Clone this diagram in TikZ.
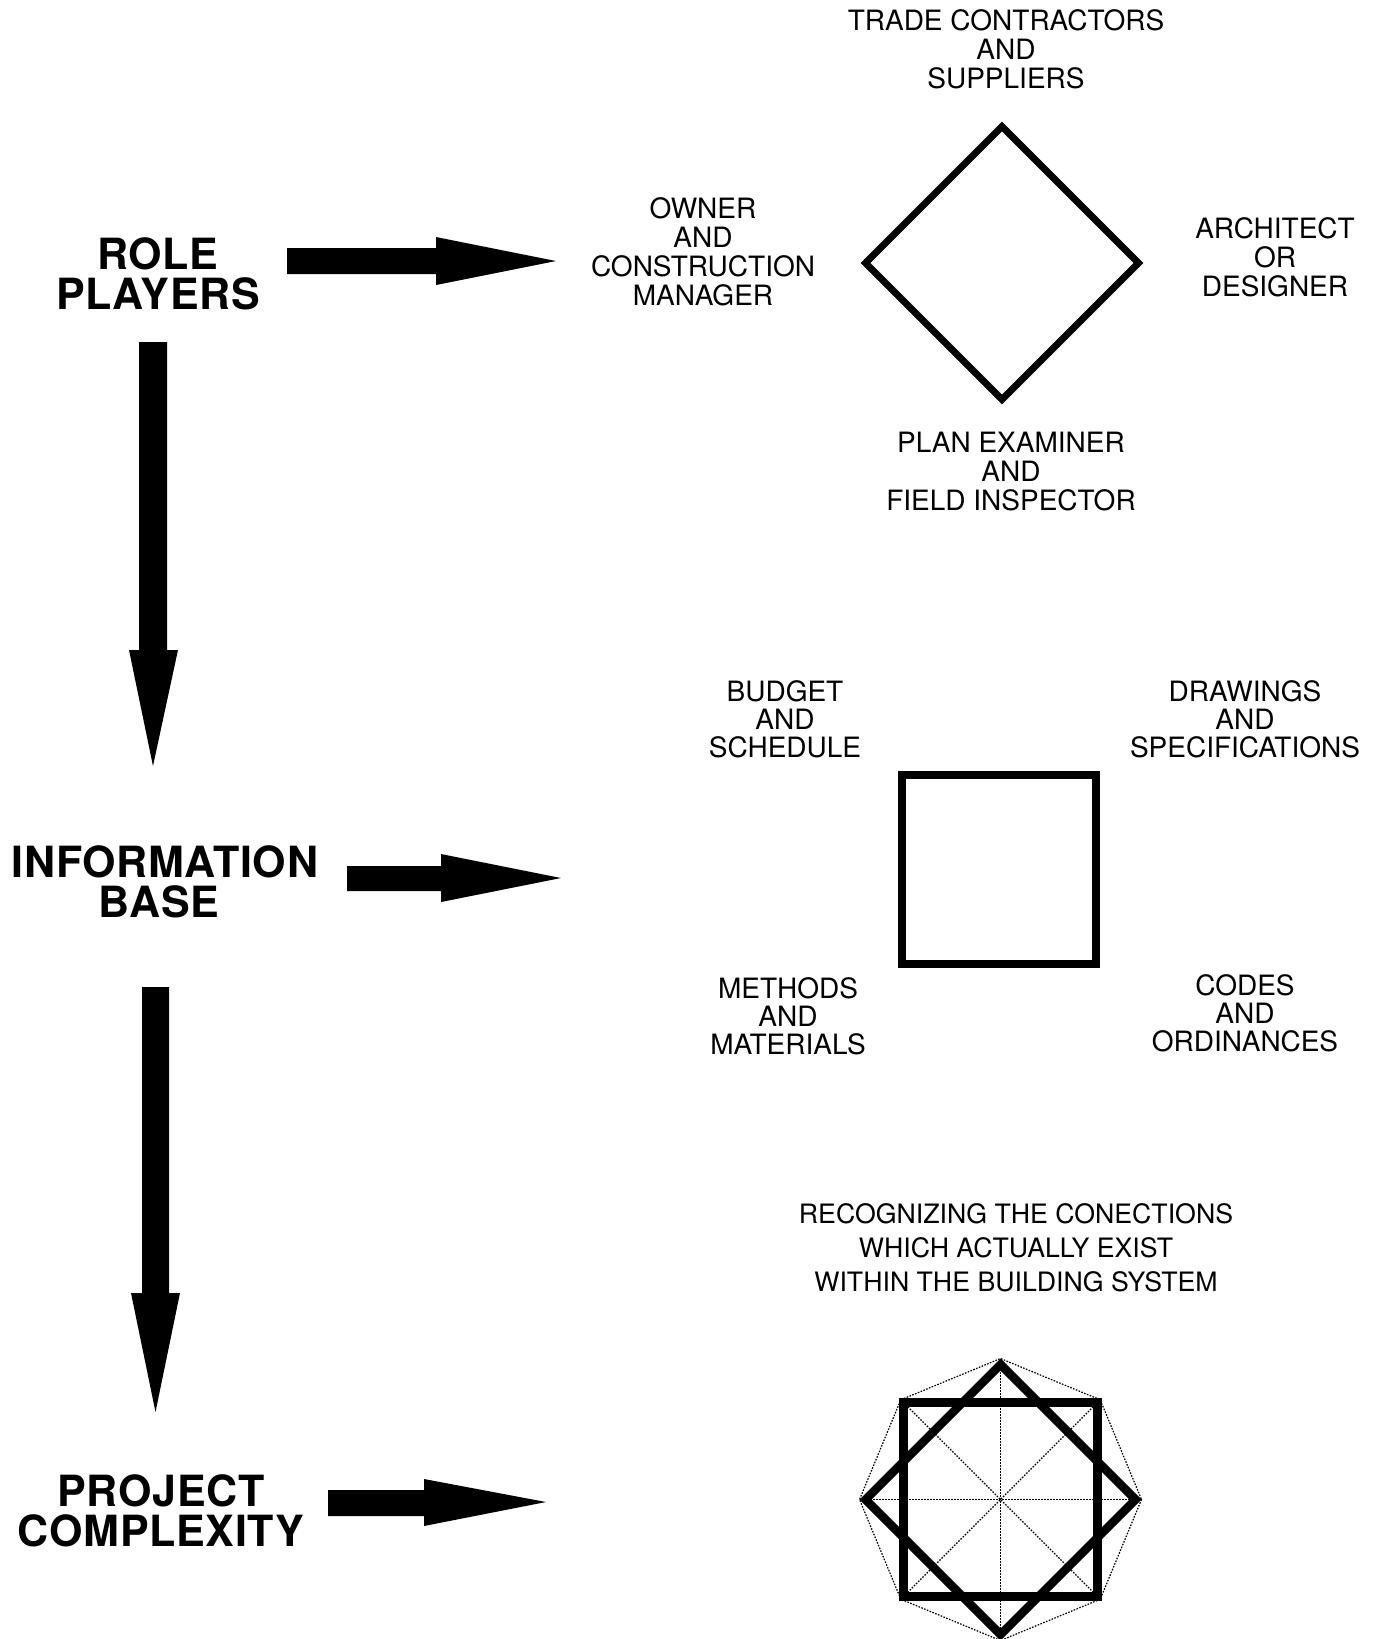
\documentclass[tikz,border=0pt]{standalone}
\usepackage{fontspec}
\setmainfont{TeX Gyre Heros}
\usetikzlibrary{calc}
\begin{document}
\begin{tikzpicture}[x=1pt,y=-1pt,
  lab/.style={align=center, inner sep=0pt, font=\fontsize{28}{29}\selectfont},
  title/.style={align=center, inner sep=0pt, font=\fontsize{43}{40}\selectfont\bfseries\addfontfeatures{LetterSpace=1.6}},
  blockarrow/.style={fill=black, draw=none},
  heavy/.style={draw=black, line width=7pt, miter limit=10},
  fine/.style={draw=black, line width=1.2pt, dash pattern=on 1.6pt off 1.4pt}]
\path[use as bounding box, fill=white] (0,0) rectangle (1383,1639);

% titles
\node[title] (role) at (158,274) {ROLE\\PLAYERS};
\node[title] (info) at (165,882) {INFORMATION\\\hspace*{-12pt}BASE};
\node[title] (proj) at (161,1511) {PROJECT\\COMPLEXITY};

% block arrows
\fill[blockarrow] (287,248) -- (436,248) -- (436,237) -- (556,261) -- (436,285) -- (436,274) -- (287,274) -- cycle;
\fill[blockarrow] (347,866) -- (441,866) -- (441,854) -- (561,878) -- (441,902) -- (441,891) -- (347,891) -- cycle;
\fill[blockarrow] (328,1490) -- (424,1490) -- (424,1479) -- (546,1502) -- (424,1526) -- (424,1516) -- (328,1516) -- cycle;
\fill[blockarrow] (139,342) -- (167,342) -- (167,650) -- (178,650) -- (153,766) -- (129,650) -- (139,650) -- cycle;
\fill[blockarrow] (142,987) -- (169,987) -- (169,1293) -- (180,1293) -- (155.5,1412) -- (131,1293) -- (142,1293) -- cycle;

% role players diamond
\coordinate (rp) at (1002,263);
\draw[heavy] ($(rp)+(0,-136.5)$) -- ($(rp)+(136.5,0)$) -- ($(rp)+(0,136.5)$) -- ($(rp)+(-136.5,0)$) -- cycle;
\node[lab] (trade) at (1006,49) {TRADE CONTRACTORS\\AND\\SUPPLIERS};
\node[lab] (owner) at (703,252) {OWNER\\AND\\CONSTRUCTION\\MANAGER};
\node[lab] (arch) at (1275,257) {ARCHITECT\\OR\\DESIGNER};
\node[lab] (plan) at (1011,472) {PLAN EXAMINER\\AND\\FIELD INSPECTOR};

% information base square
\draw[heavy, line width=8pt] (902,775) rectangle (1096,964);
\node[lab, font=\fontsize{28}{28}\selectfont] (budget) at (785,719) {BUDGET\\AND\\SCHEDULE};
\node[lab, font=\fontsize{28}{28}\selectfont] (drawings) at (1245,719) {DRAWINGS\\AND\\SPECIFICATIONS};
\node[lab, font=\fontsize{28}{28}\selectfont] (methods) at (788,1016) {METHODS\\AND\\MATERIALS};
\node[lab, font=\fontsize{28}{28}\selectfont] (codes) at (1245,1013) {CODES\\AND\\ORDINANCES};

% project complexity
\node[lab, font=\fontsize{26.7}{34}\selectfont] (recog) at (1016,1248) {RECOGNIZING THE CONECTIONS\\WHICH ACTUALLY EXIST\\WITHIN THE BUILDING SYSTEM};
\coordinate (pc) at (1000.5,1499.5);
\foreach \a in {0,45,...,315} { \coordinate (o\a) at ($(pc)+(\a:141)$); }
\draw[fine] (o0) -- (o45) -- (o90) -- (o135) -- (o180) -- (o225) -- (o270) -- (o315) -- cycle;
\draw[fine] (o90) -- (o270);
\draw[fine] (o0) -- (o180);
\coordinate (s1) at ($(pc)+(-97,-97)$);
\coordinate (s2) at ($(pc)+(97,-97)$);
\coordinate (s3) at ($(pc)+(97,97)$);
\coordinate (s4) at ($(pc)+(-97,97)$);
\draw[fine] (s1) -- (s3);
\draw[fine] (s2) -- (s4);
\draw[heavy, line width=8.5pt] (s1) -- (s2) -- (s3) -- (s4) -- cycle;
\draw[heavy, line width=8.5pt] ($(pc)+(0,-135)$) -- ($(pc)+(135,0)$) -- ($(pc)+(0,135)$) -- ($(pc)+(-135,0)$) -- cycle;
\end{tikzpicture}
\end{document}
